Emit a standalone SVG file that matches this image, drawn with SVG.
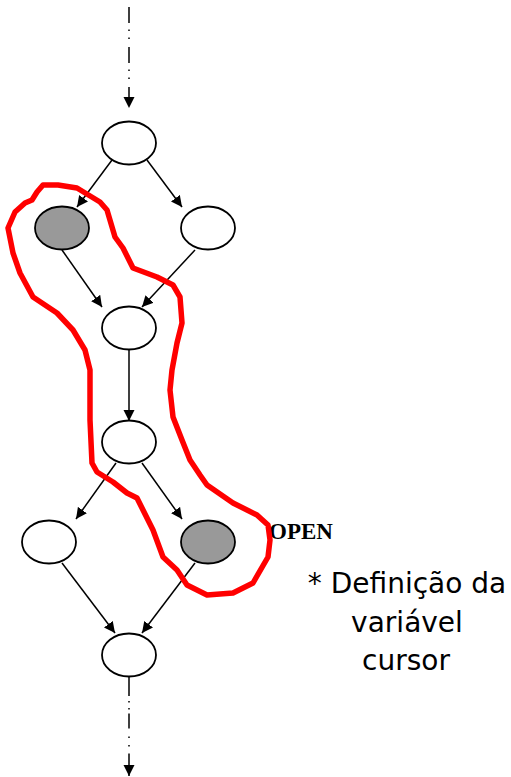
<svg xmlns="http://www.w3.org/2000/svg" width="511" height="777" viewBox="0 0 511 777">
  <style>
    .node { stroke: #000; stroke-width: 1.8; fill: #fff; }
    .gray { fill: #999999; }
    .edge { stroke: #000; stroke-width: 1.5; fill: none; }
    .loop { stroke: #ff0000; stroke-width: 5.5; fill: none; stroke-linejoin: round; stroke-linecap: round; }
    .label { font-family: "DejaVu Sans", Tahoma, sans-serif; font-size: 28px; fill: #000; }
    .open { font-family: "Liberation Serif", "Times New Roman", serif; font-weight: bold; font-size: 23px; fill: #000; }
  </style>
  <defs>
    <marker id="arrow" markerUnits="userSpaceOnUse" markerWidth="13" markerHeight="12" refX="11" refY="5.5" orient="auto">
      <path d="M0,0 L11,5.5 L0,11 Z" fill="#000" stroke="none"/>
    </marker>
  </defs>

  <g id="connectors">
    <path class="edge" d="M129,7 L129,108" stroke-dasharray="16 6.5 1.5 6.5 1.5 8" marker-end="url(#arrow)"/>
    <line class="edge" x1="112" y1="160" x2="77" y2="207" marker-end="url(#arrow)"/>
    <line class="edge" x1="147" y1="160" x2="182" y2="207" marker-end="url(#arrow)"/>
    <line class="edge" x1="62" y1="250" x2="102" y2="307" marker-end="url(#arrow)"/>
    <line class="edge" x1="195" y1="250" x2="142" y2="307" marker-end="url(#arrow)"/>
    <line class="edge" x1="129" y1="350" x2="129" y2="421" marker-end="url(#arrow)"/>
    <line class="edge" x1="116" y1="463" x2="76" y2="519" marker-end="url(#arrow)"/>
    <line class="edge" x1="142" y1="463" x2="182" y2="519" marker-end="url(#arrow)"/>
    <line class="edge" x1="62" y1="563" x2="115" y2="633" marker-end="url(#arrow)"/>
    <line class="edge" x1="195" y1="563" x2="142" y2="633" marker-end="url(#arrow)"/>
    <path class="edge" d="M129,677 L129,776" stroke-dasharray="19 5 1.5 5.5 1.5 4 15 8 1.5 7 1.5 7 40" marker-end="url(#arrow)"/>
  </g>

  <g id="n1"><ellipse class="node" cx="129" cy="143" rx="27" ry="21.5"/></g>
  <g id="n2"><ellipse class="node gray" cx="62" cy="228" rx="27" ry="21.5"/></g>
  <g id="n3"><ellipse class="node" cx="208" cy="228" rx="27" ry="21.5"/></g>
  <g id="n4"><ellipse class="node" cx="129" cy="328" rx="27" ry="21.5"/></g>
  <g id="n5"><ellipse class="node" cx="129" cy="442" rx="27" ry="21.5"/></g>
  <g id="n6"><ellipse class="node" cx="49" cy="542" rx="27" ry="21.5"/></g>
  <g id="n7"><ellipse class="node gray" cx="208" cy="542" rx="27" ry="21.5"/></g>
  <g id="n8"><ellipse class="node" cx="129" cy="655" rx="27" ry="21.5"/></g>

  <g id="open-label"><text class="open" x="269" y="539">OPEN</text></g>

  <g id="cursor-loop">
    <path class="loop" d="M43,185 L58,185 L77,188 L100,202 L107,210 L115,237 L123,248 L133,268 L157,277 L173,285 L180,297 L182,323 L177,343 L172,370 L170,390 L173,417 L182,440 L190,460 L200,475 L207,485 L233,503 L257,515 L268,525 L270,540 L268,557 L253,583 L233,593 L207,595 L187,585 L177,570 L163,557 L153,530 L143,510 L137,498 L127,493 L113,482 L97,472 L92,463 L90,420 L90,370 L85,350 L73,330 L57,313 L33,297 L20,273 L13,253 L8,228 L15,212 L25,203 L32,200 L37,192 Z"/>
  </g>

  <g id="note">
    <text class="label" text-anchor="middle" x="407" y="593">* Definição da</text>
    <text class="label" text-anchor="middle" x="407" y="632">variável</text>
    <text class="label" text-anchor="middle" x="406" y="670">cursor</text>
  </g>
</svg>
